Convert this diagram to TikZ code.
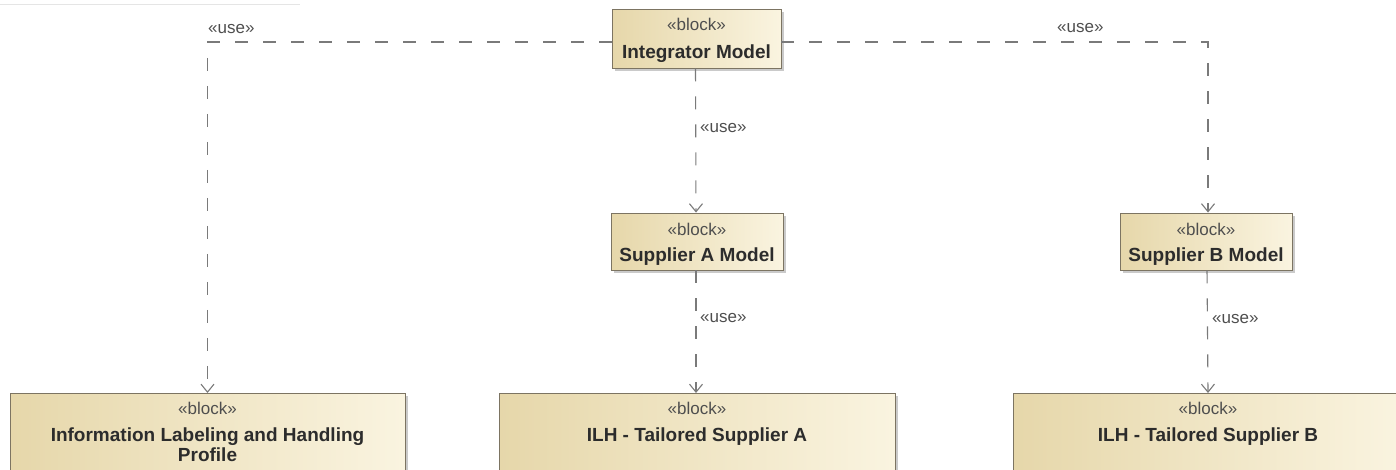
\documentclass[tikz,border=0pt]{standalone}
\usepackage{fontspec}
\setmainfont{Liberation Sans}
\usetikzlibrary{arrows.meta,shadows}

\definecolor{tanL}{HTML}{E6D7AA}
\definecolor{tanR}{HTML}{FAF4E0}
\definecolor{boxline}{HTML}{7C7462}
\definecolor{linegray}{HTML}{7A7A7A}
\definecolor{nametxt}{HTML}{2C2C2C}
\definecolor{stereotxt}{HTML}{4E4E4E}

\tikzset{
  blk/.style={draw=boxline, line width=0.9pt, left color=tanL, right color=tanR,
    inner sep=0pt, drop shadow={shadow xshift=3pt, shadow yshift=-3pt, opacity=0.35, fill=black!60}},
  stereo/.style={font=\fontsize{17}{20}\selectfont, text=stereotxt, inner sep=0pt, anchor=base},
  bname/.style={font=\fontsize{19}{20}\selectfont\bfseries, text=nametxt, inner sep=0pt,
    anchor=north, align=center},
  dep/.style={draw=linegray, line width=1.1pt, dash pattern=on 13pt off 15pt,
    -{Straight Barb[length=8pt,width=13pt,line width=1.1pt]}},
  uselbl/.style={font=\fontsize{17}{20}\selectfont, text=stereotxt, inner sep=0pt, anchor=base west}
}

\begin{document}
\begin{tikzpicture}[x=1pt,y=-1pt]
  \useasboundingbox (0,0) rectangle (1396,469);
  \clip (0,0) rectangle (1396,469);

  % faint rule along the top edge
  \draw[black!10, line width=1pt] (0,4) -- (300,4);

  % upper blocks
  \node[blk, minimum width=169pt, minimum height=59pt] (integ) at (696.5,38.5) {};
  \node[blk, minimum width=172pt, minimum height=57pt] (supA) at (697,241.5) {};
  \node[blk, minimum width=172pt, minimum height=57pt] (supB) at (1206,241.5) {};

  % lower blocks (run past the bottom edge)
  \node[blk, minimum width=395pt, minimum height=100pt, anchor=north] (ilh) at (207.5,393) {};
  \node[blk, minimum width=396pt, minimum height=100pt, anchor=north] (tailA) at (697,393) {};
  \node[blk, minimum width=390pt, minimum height=100pt, anchor=north] (tailB) at (1208,393) {};

  % block labels
  \node[stereo] (integS) at ([yshift=-22pt]integ.north) {«block»};
  \node[bname]  (integN) at ([yshift=-36pt]integ.north) {Integrator Model};
  \node[stereo] (supAS) at ([yshift=-23pt]supA.north) {«block»};
  \node[bname]  (supAN) at ([yshift=-35pt]supA.north) {Supplier A Model};
  \node[stereo] (supBS) at ([yshift=-23pt]supB.north) {«block»};
  \node[bname]  (supBN) at ([yshift=-35pt]supB.north) {Supplier B Model};

  \node[stereo] (ilhS) at ([yshift=-21pt]ilh.north) {«block»};
  \node[bname]  (ilhN) at ([yshift=-35pt]ilh.north) {Information Labeling and Handling\\Profile};
  \node[stereo] (tailAS) at ([yshift=-21pt]tailA.north) {«block»};
  \node[bname]  (tailAN) at ([yshift=-35pt]tailA.north) {ILH - Tailored Supplier A};
  \node[stereo] (tailBS) at ([yshift=-21pt]tailB.north) {«block»};
  \node[bname]  (tailBN) at ([yshift=-35pt]tailB.north) {ILH - Tailored Supplier B};

  % usage dependencies
  \draw[dep] ([yshift=-3.5pt]integ.west) -| (ilh.north);
  \draw[dep] ([yshift=-3.5pt]integ.east) -| ([xshift=2pt]supB.north);
  \draw[dep] ([xshift=-1pt]integ.south) -- ([xshift=-1pt]supA.north);
  \draw[dep] ([xshift=-1pt]supA.south) -- ([xshift=-1pt]tailA.north);
  \draw[dep] ([xshift=1pt]supB.south) -- (tailB.north);

  % dependency stereotypes
  \node[uselbl] (u1) at (208,33) {«use»};
  \node[uselbl] (u2) at (1057,32) {«use»};
  \node[uselbl] (u3) at (700,132) {«use»};
  \node[uselbl] (u4) at (700,322) {«use»};
  \node[uselbl] (u5) at (1212,323) {«use»};
\end{tikzpicture}
\end{document}
